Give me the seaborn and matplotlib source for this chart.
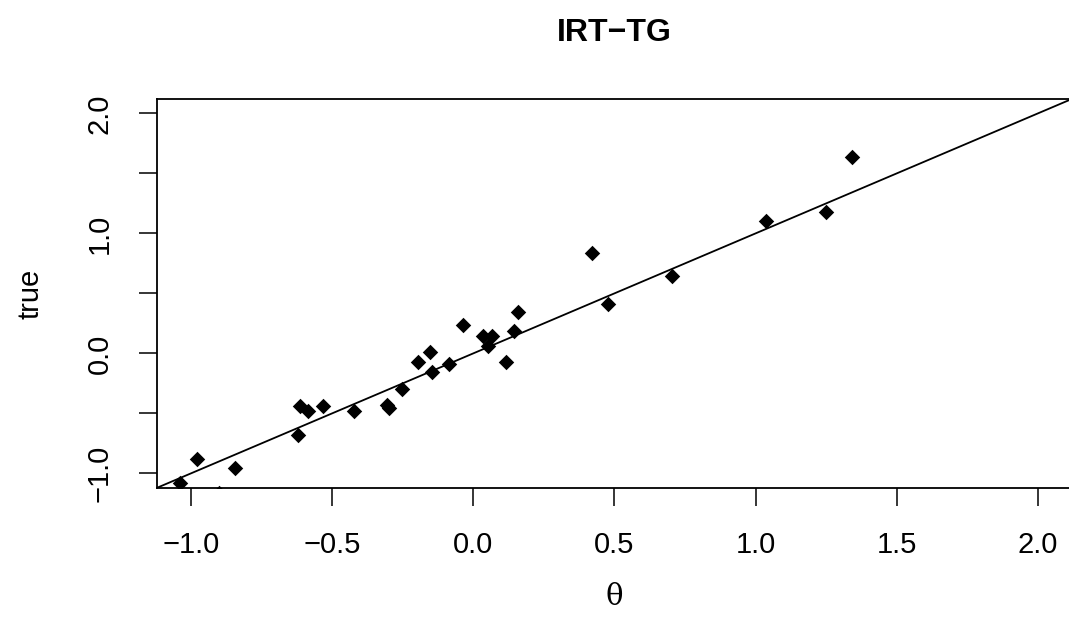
import matplotlib
matplotlib.use('Agg')
import matplotlib.pyplot as plt
import seaborn as sns
import pandas as pd

# data
theta = [-1.038, -0.977, -0.842, -0.621, -0.612, -0.586, -0.532, -0.423,
         -0.306, -0.298, -0.251, -0.194, -0.153, -0.147, -0.086, -0.037,
         0.034, 0.066, 0.054, 0.115, 0.145, 0.158, 0.420, 0.479, 0.703,
         1.038, 1.248, 1.341, -0.899]
true_vals = [-1.080, -0.884, -0.952, -0.683, -0.442, -0.478, -0.442, -0.483,
             -0.428, -0.455, -0.297, -0.069, 0.008, -0.153, -0.086, 0.233,
             0.142, 0.142, 0.058, -0.072, 0.189, 0.345, 0.837, 0.411, 0.648,
             1.106, 1.175, 1.633, -1.16]

x_ticks = [-1.0, -0.5, 0.0, 0.5, 1.0, 1.5, 2.0]
x_tick_labels = ['−1.0', '−0.5', '0.0', '0.5', '1.0', '1.5', '2.0']
y_ticks = [-1.0, -0.5, 0.0, 0.5, 1.0, 1.5, 2.0]
y_tick_labels = ['−1.0', '', '0.0', '', '1.0', '', '2.0']

sns.set_theme(style='white')
plt.rcParams['font.family'] = ['Liberation Sans', 'DejaVu Sans']
plt.rcParams['axes.unicode_minus'] = True
plt.rcParams['text.color'] = 'black'
plt.rcParams['axes.labelcolor'] = 'black'
plt.rcParams['xtick.color'] = 'black'
plt.rcParams['ytick.color'] = 'black'

fig = plt.figure(figsize=(10.69, 6.4), dpi=100)
ax = fig.add_axes([0.14687, 0.2378, 0.8557, 0.6075])

df = pd.DataFrame({'theta': theta, 'true': true_vals})
sns.scatterplot(data=df, x='theta', y='true', marker='D', s=62,
                color='black', linewidth=0, ax=ax, zorder=3)
ax.axline((0, 0), slope=1, color='black', lw=1.3)

ax.set_xlim(-1.12, 2.12)
ax.set_ylim(-1.12, 2.12)

ax.set_xticks(x_ticks)
ax.set_xticklabels(x_tick_labels)
ax.set_yticks(y_ticks)
ax.set_yticklabels(y_tick_labels, rotation=90, va='center')

ax.tick_params(direction='out', length=13, width=1.1, pad=18,
               labelsize=21, colors='black', labelcolor='black',
               bottom=True, left=True, top=False, right=False)

for sp in ax.spines.values():
    sp.set_color('black')
    sp.set_linewidth(1.3)

ax.set_xlabel('θ', fontsize=21, family=['DejaVu Serif'], va='center',
              color='black')
ax.xaxis.set_label_coords(0.5, -0.281)
ax.set_ylabel('true', fontsize=21, va='center', color='black')
ax.yaxis.set_label_coords(-0.1388, 0.5)

ax.set_title('IRT−TG', fontsize=23, fontweight='bold', y=1.1697,
             va='center', pad=0, color='black')

fig.savefig('out.png', dpi=100)
